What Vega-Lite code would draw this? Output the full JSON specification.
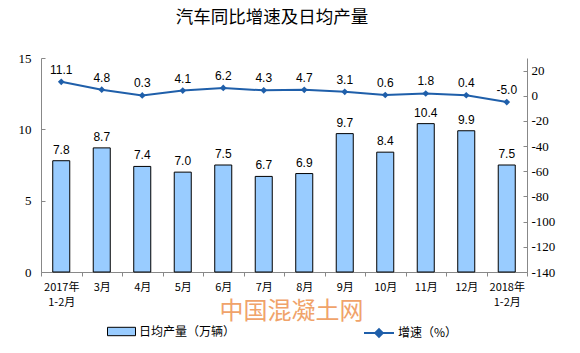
{
  "$schema": "https://vega.github.io/schema/vega-lite/v6.json",
  "width": 486,
  "height": 214,
  "autosize": "none",
  "padding": {"left": 41, "top": 58, "right": 53, "bottom": 81},
  "background": "white",
  "title": {"text": "汽车同比增速及日均产量", "font": "Noto Sans CJK SC", "fontSize": 17.5, "fontWeight": "normal", "color": "#000", "anchor": "middle", "dx": -12, "offset": 26},
  "data": {"values": [
    {"m": "2017年|1-2月", "prod": 7.8, "growth": 11.1},
    {"m": "3月", "prod": 8.7, "growth": 4.8},
    {"m": "4月", "prod": 7.4, "growth": 0.3},
    {"m": "5月", "prod": 7.0, "growth": 4.1},
    {"m": "6月", "prod": 7.5, "growth": 6.2},
    {"m": "7月", "prod": 6.7, "growth": 4.3},
    {"m": "8月", "prod": 6.9, "growth": 4.7},
    {"m": "9月", "prod": 9.7, "growth": 3.1},
    {"m": "10月", "prod": 8.4, "growth": 0.6},
    {"m": "11月", "prod": 10.4, "growth": 1.8},
    {"m": "12月", "prod": 9.9, "growth": 0.4},
    {"m": "2018年|1-2月", "prod": 7.5, "growth": -5.0}
  ]},
  "encoding": {
    "x": {"field": "m", "type": "nominal", "sort": null,
      "scale": {"paddingInner": 0, "paddingOuter": 0},
      "axis": {"title": "中国混凝土网", "titleFont": "Noto Sans CJK SC", "titleFontSize": 24, "titleFontWeight": "normal", "titleColor": "#F0A36A", "titleX": 250, "titleY": 39, "titleBaseline": "middle",
        "labelExpr": "split(datum.label, '|')", "labelAngle": 0, "labelFont": "Noto Sans CJK SC", "labelFontSize": 11, "labelLineHeight": 15, "labelPadding": 5, "labelColor": "#000",
        "domainColor": "#888", "tickColor": "#888", "tickSize": 4, "tickBand": "extent"}}
  },
  "layer": [
    {
      "encoding": {
        "y": {"field": "prod", "type": "quantitative", "scale": {"domain": [0, 15]},
          "axis": {"title": null, "values": [0, 5, 10, 15], "grid": false, "domainColor": "#888", "tickColor": "#888", "tickSize": -4, "labelPadding": 14, "labelFont": "Liberation Serif", "labelFontSize": 13, "labelColor": "#000"}}
      },
      "layer": [
        {"mark": {"type": "bar", "width": {"band": 0.42}, "stroke": "black", "strokeWidth": 1},
         "encoding": {
           "fill": {"datum": "日均产量（万辆）", "scale": {"range": ["#99CCFF"]},
             "legend": {"title": null, "orient": "none", "legendX": 66, "legendY": 259, "padding": 0, "symbolType": "M-1,-0.3H1V0.3H-1Z", "symbolSize": 784, "symbolStrokeColor": "black", "symbolStrokeWidth": 1, "labelFont": "Noto Sans CJK SC", "labelFontSize": 12, "labelOffset": 3, "labelColor": "#000"}}
         }},
        {"mark": {"type": "text", "baseline": "bottom", "dy": -4, "font": "Liberation Sans", "fontSize": 12, "color": "#000"},
         "encoding": {
           "text": {"field": "prod", "type": "quantitative", "format": ".1f"}
         }}
      ]
    },
    {
      "encoding": {
        "y": {"field": "growth", "type": "quantitative", "scale": {"domain": [-140, 30]},
          "axis": {"orient": "right", "title": null, "values": [-140, -120, -100, -80, -60, -40, -20, 0, 20], "grid": false, "domainColor": "#888", "tickColor": "#888", "tickSize": -4, "labelPadding": 8, "labelFont": "Liberation Serif", "labelFontSize": 13, "labelColor": "#000"}}
      },
      "layer": [
        {"mark": {"type": "line", "strokeWidth": 2},
         "encoding": {
           "stroke": {"datum": "增速（%）", "scale": {"range": ["#1F5FAA"]},
             "legend": {"title": null, "orient": "none", "legendX": 322, "legendY": 259, "padding": 0, "symbolType": "M-1,0H1M-0.25,0L0,-0.25L0.25,0L0,0.25Z", "symbolSize": 900, "symbolStrokeWidth": 2, "symbolFillColor": "#1F5FAA", "labelFont": "Noto Sans CJK SC", "labelFontSize": 12, "labelOffset": 3, "labelColor": "#000"}}
         }},
        {"mark": {"type": "point", "shape": "diamond", "filled": true, "size": 45, "color": "#1F5FAA", "opacity": 1}},
        {"mark": {"type": "text", "baseline": "bottom", "dy": -5, "font": "Liberation Sans", "fontSize": 12, "color": "#000"},
         "encoding": {
           "text": {"field": "growth", "type": "quantitative", "format": ".1f"}
         }}
      ]
    }
  ],
  "resolve": {"scale": {"y": "independent"}},
  "config": {
    "view": {"stroke": null},
    "locale": {"number": {"decimal": ".", "thousands": ",", "grouping": [3], "currency": ["$", ""], "minus": "-"}}
  }
}
